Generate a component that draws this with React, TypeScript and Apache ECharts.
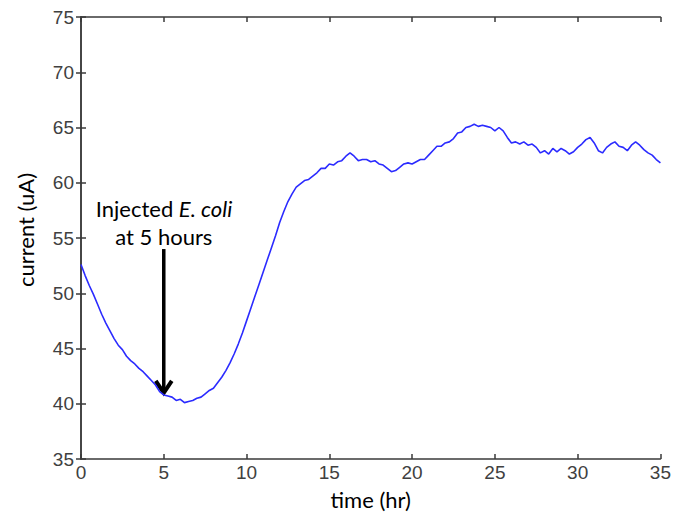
import React, { useEffect, useRef } from "react";
import * as echarts from "echarts";

const timeHr = [
  0, 0.25, 0.5, 0.75, 1, 1.25, 1.5, 1.75, 2, 2.25, 2.5, 2.75, 3, 3.25, 3.5, 3.75,
  4, 4.25, 4.5, 4.75, 5, 5.25, 5.5, 5.75, 6, 6.25, 6.5, 6.75, 7, 7.25, 7.5, 7.75,
  8, 8.25, 8.5, 8.75, 9, 9.25, 9.5, 9.75, 10, 10.25, 10.5, 10.75, 11, 11.25, 11.5, 11.75,
  12, 12.25, 12.5, 12.75, 13, 13.25, 13.5, 13.75, 14, 14.25, 14.5, 14.75, 15, 15.25, 15.5, 15.75,
  16, 16.25, 16.5, 16.75, 17, 17.25, 17.5, 17.75, 18, 18.25, 18.5, 18.75, 19, 19.25, 19.5, 19.75,
  20, 20.25, 20.5, 20.75, 21, 21.25, 21.5, 21.75, 22, 22.25, 22.5, 22.75, 23, 23.25, 23.5, 23.75,
  24, 24.25, 24.5, 24.75, 25, 25.25, 25.5, 25.75, 26, 26.25, 26.5, 26.75, 27, 27.25, 27.5, 27.75,
  28, 28.25, 28.5, 28.75, 29, 29.25, 29.5, 29.75, 30, 30.25, 30.5, 30.75, 31, 31.25, 31.5, 31.75,
  32, 32.25, 32.5, 32.75, 33, 33.25, 33.5, 33.75, 34, 34.25, 34.5, 34.75, 35,
];

const currentUA = [
  52.6, 51.6, 50.7, 49.9, 49.0, 48.1, 47.3, 46.6, 45.9, 45.3, 44.9, 44.3, 43.9, 43.6, 43.2, 42.9,
  42.5, 42.1, 41.7, 41.1, 40.8, 40.7, 40.6, 40.3, 40.4, 40.1, 40.2, 40.3, 40.5, 40.6, 40.9, 41.2,
  41.4, 41.9, 42.4, 43.0, 43.7, 44.5, 45.4, 46.4, 47.5, 48.6, 49.7, 50.8, 51.9, 53.0, 54.1, 55.2,
  56.4, 57.4, 58.3, 59.0, 59.6, 59.9, 60.2, 60.3, 60.6, 60.9, 61.3, 61.3, 61.7, 61.6, 61.9, 62.0,
  62.4, 62.7, 62.4, 62.0, 62.1, 62.1, 61.9, 62.0, 61.7, 61.6, 61.3, 61.0, 61.1, 61.4, 61.7, 61.8,
  61.7, 61.9, 62.1, 62.1, 62.5, 62.9, 63.3, 63.3, 63.6, 63.7, 64.0, 64.5, 64.6, 65.0, 65.1, 65.3,
  65.1, 65.2, 65.1, 65.0, 64.7, 65.0, 64.7, 64.1, 63.6, 63.7, 63.5, 63.7, 63.4, 63.5, 63.2, 62.7,
  62.9, 62.6, 63.1, 62.8, 63.1, 62.9, 62.6, 62.8, 63.2, 63.5, 63.9, 64.1, 63.6, 62.9, 62.7, 63.2,
  63.5, 63.7, 63.3, 63.2, 62.9, 63.4, 63.7, 63.4, 63.0, 62.7, 62.5, 62.1, 61.8,
];

const xTickLabels = ["0", "5", "10", "15", "20", "25", "30", "35"];
const yTickLabels = ["35", "40", "45", "50", "55", "60", "65", "70", "75"];

const injectionTime = 5;
const arrowTop = 54.0;
const arrowTip = 40.8;

export default function App() {
  const ref = useRef<HTMLDivElement>(null);

  useEffect(() => {
    if (!ref.current) return;
    const chart = echarts.init(ref.current, null, { renderer: "svg" });
    const axisColor = "#3a3a3a";
    const labelFont = {
      color: "#404040",
      fontFamily: "'Liberation Sans Narrow', 'Arial Narrow', 'Liberation Sans', Arial",
      fontSize: 19,
    };
    const calibriLike = "Lato, 'Open Sans', sans-serif";
    const nameFont = { color: "#000", fontFamily: calibriLike, fontSize: 22 };

    const xMin = Number(xTickLabels[0]);
    const xMax = Number(xTickLabels[xTickLabels.length - 1]);
    const yMin = Number(yTickLabels[0]);
    const yMax = Number(yTickLabels[yTickLabels.length - 1]);

    const baseAxisLine = { show: true, lineStyle: { color: axisColor, width: 1.5 } };
    const baseTick = { show: true, inside: true, length: 5, lineStyle: { color: axisColor, width: 1.5 } };

    chart.setOption({
      animation: false,
      backgroundColor: "#fff",
      grid: { left: 81, right: 8, top: 17, bottom: 51, containLabel: false },
      xAxis: [
        {
          type: "value",
          min: xMin,
          max: xMax,
          interval: 5,
          position: "bottom",
          name: "time (hr)",
          nameLocation: "middle",
          nameGap: 29,
          nameTextStyle: nameFont,
          axisLine: baseAxisLine,
          axisTick: baseTick,
          axisLabel: { ...labelFont, margin: 4 },
          splitLine: { show: false },
        },
        {
          type: "value",
          min: xMin,
          max: xMax,
          interval: 5,
          position: "top",
          axisLine: baseAxisLine,
          axisTick: baseTick,
          axisLabel: { show: false },
          splitLine: { show: false },
        },
      ],
      yAxis: [
        {
          type: "value",
          min: yMin,
          max: yMax,
          interval: 5,
          position: "left",
          axisLine: baseAxisLine,
          axisTick: baseTick,
          axisLabel: { ...labelFont, margin: 7 },
          splitLine: { show: false },
        },
        {
          type: "value",
          min: yMin,
          max: yMax,
          interval: 5,
          position: "right",
          axisLine: baseAxisLine,
          axisTick: baseTick,
          axisLabel: { show: false },
          splitLine: { show: false },
        },
      ],
      series: [
        {
          type: "line",
          data: timeHr.map((t, i) => [t, currentUA[i]]),
          showSymbol: false,
          lineStyle: { color: "#2b2bff", width: 1.6 },
        },
      ],
    });

    const top = chart.convertToPixel({ gridIndex: 0 }, [injectionTime, arrowTop]) as number[];
    const tip = chart.convertToPixel({ gridIndex: 0 }, [injectionTime, arrowTip]) as number[];
    const labelX = top[0];
    chart.setOption({
      graphic: [
        {
          type: "text",
          x: 25,
          y: 230,
          rotation: Math.PI / 2,
          style: {
            text: "current (uA)",
            align: "center",
            verticalAlign: "middle",
            fill: "#000",
            fontFamily: calibriLike,
            fontSize: 22,
          },
        },
        {
          type: "line",
          shape: { x1: top[0], y1: top[1], x2: tip[0], y2: tip[1] - 3 },
          style: { stroke: "#000", lineWidth: 3.5 },
        },
        {
          type: "polyline",
          shape: { points: [[tip[0] - 8, tip[1] - 14], [tip[0], tip[1] - 2], [tip[0] + 8, tip[1] - 14]] },
          style: { stroke: "#000", lineWidth: 4, fill: null, lineJoin: "miter" },
        },
        {
          type: "text",
          x: labelX - 68,
          y: 197,
          style: {
            text: "Injected {i|E. coli}",
            align: "left",
            fill: "#000",
            fontFamily: calibriLike,
            fontSize: 22,
            rich: {
              i: { fontStyle: "italic", fontFamily: calibriLike, fontSize: 22, fill: "#000" },
            },
          },
        },
        {
          type: "text",
          x: labelX,
          y: 225,
          style: {
            text: "at 5 hours",
            align: "center",
            fill: "#000",
            fontFamily: calibriLike,
            fontSize: 22,
          },
        },
      ],
    });
    return () => chart.dispose();
  }, []);

  return (
    <div
      ref={ref}
      style={{ position: "fixed", left: 0, top: 0, width: 674, height: 515 }}
    />
  );
}
